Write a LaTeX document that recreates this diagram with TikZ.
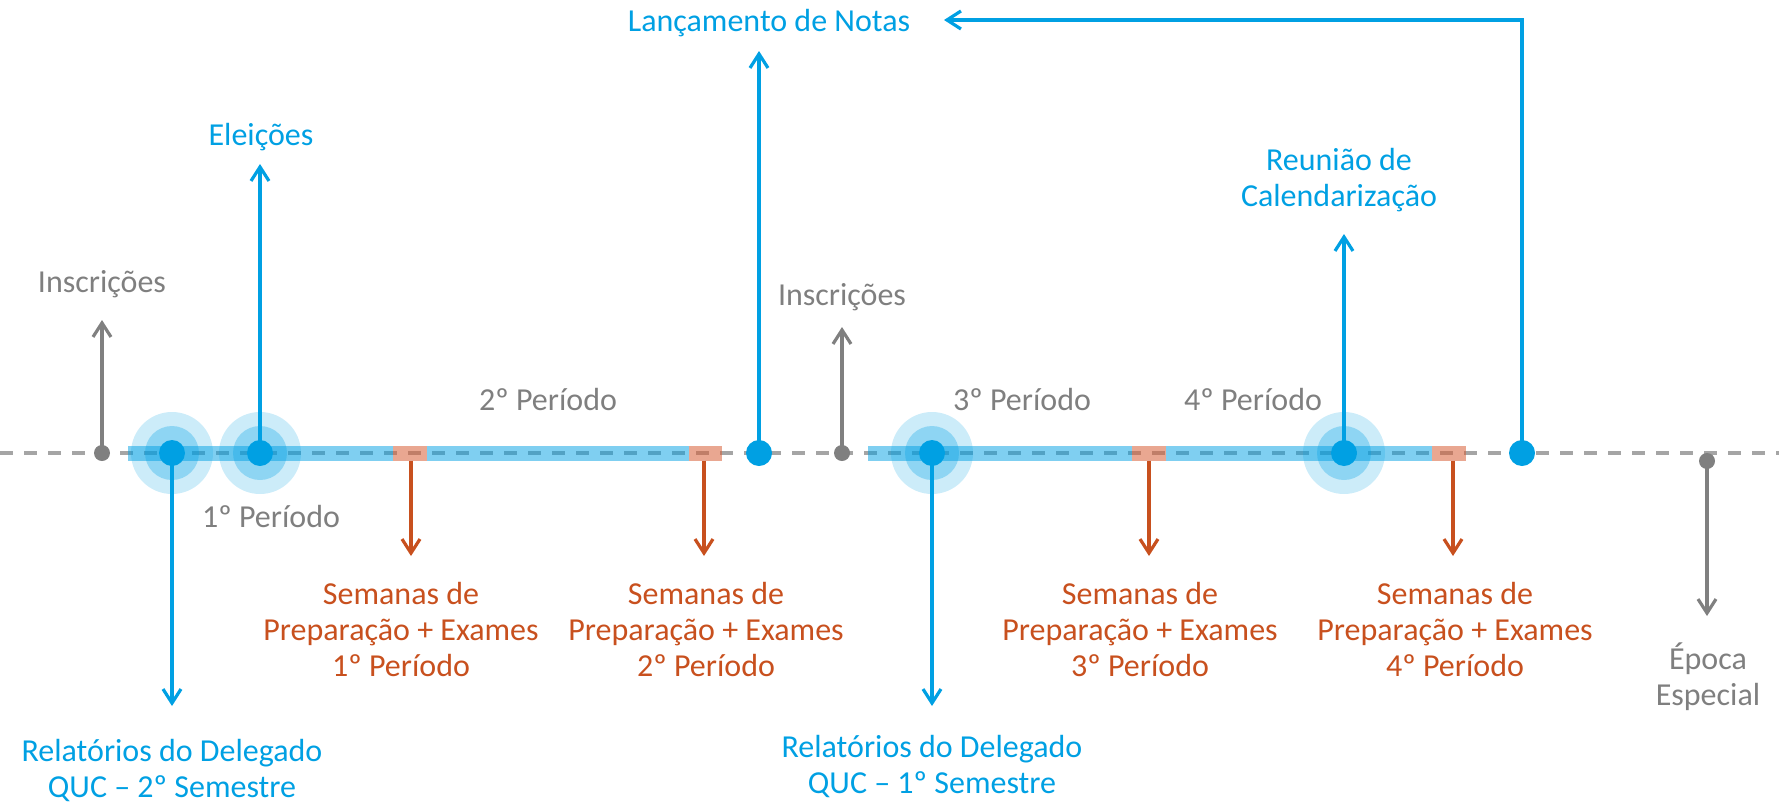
\documentclass[tikz,border=0pt]{standalone}
\usepackage{fontspec}
\setmainfont{Carlito}
\usetikzlibrary{arrows.meta}
\definecolor{cblue}{RGB}{0,160,227}
\definecolor{cgray}{RGB}{127,127,127}
\definecolor{cgline}{RGB}{128,128,128}
\definecolor{cline}{RGB}{165,165,165}
\definecolor{cred}{RGB}{200,80,30}
\definecolor{crect}{RGB}{215,95,55}
\begin{document}
\begin{tikzpicture}[x=0.5pt,y=-0.5pt,
 lbl/.style={font=\fontsize{16}{18}\selectfont, align=center, inner sep=0pt},
 bluelbl/.style={lbl,text=cblue},
 graylbl/.style={lbl,text=cgray},
 redlbl/.style={lbl,text=cred},
 tipline/.style={line width=1.6pt,-{Straight Barb[length=7pt,width=9pt]}},
 bluedot/.style={circle,fill=cblue,inner sep=0pt,minimum size=13pt},
 graydot/.style={circle,fill=cgline,inner sep=0pt,minimum size=8pt},
 halo/.style={fill=cblue,opacity=0.2},
 halomid/.style={fill=cblue,opacity=0.3},
 bar/.style={fill=cblue,opacity=0.5},
 redbar/.style={fill=crect,opacity=0.55}
]
\useasboundingbox (0,0) rectangle (1779,809);
% timeline
\draw[cline, line width=2pt, dash pattern=on 6.5pt off 5.5pt] (0,453) -- (1779,453);
% halos
\foreach \x in {172,260,932,1344}{
  \fill[halo] (\x,453) circle[radius=41];
  \fill[halomid] (\x,453) circle[radius=27];
}
% bars
\fill[bar] (128,445.5) rectangle (393,460.5);
\fill[redbar] (393,445.5) rectangle (427,460.5);
\fill[bar] (427,445.5) rectangle (689,460.5);
\fill[redbar] (689,445.5) rectangle (722,460.5);
\fill[bar] (868,445.5) rectangle (1132,460.5);
\fill[redbar] (1132,445.5) rectangle (1166,460.5);
\fill[bar] (1166,445.5) rectangle (1432,460.5);
\fill[redbar] (1432,445.5) rectangle (1466,460.5);
% dots
\node[graydot] (g1) at (102,453) {};
\node[bluedot] (b1) at (172,453) {};
\node[bluedot] (b2) at (260,453) {};
\node[bluedot] (b3) at (759,453) {};
\node[graydot] (g2) at (842,453) {};
\node[bluedot] (b4) at (932,453) {};
\node[bluedot] (b5) at (1344,453) {};
\node[bluedot] (b6) at (1522,453) {};
\node[graydot] (g3) at (1707,461) {};
% red marker anchors
\coordinate (r1) at (411,460.5);
\coordinate (r2) at (704,460.5);
\coordinate (r3) at (1149,460.5);
\coordinate (r4) at (1453,460.5);
% tips
\coordinate (tg1) at (102,320);
\coordinate (tb1) at (172,706);
\coordinate (tb2) at (260,164);
\coordinate (tb3) at (759,51);
\coordinate (tg2) at (842,327);
\coordinate (tb4) at (932,706);
\coordinate (tb5) at (1344,234);
\coordinate (tb6) at (944,20);
\coordinate (tg3) at (1707,616);
\coordinate (tr1) at (411,556);
\coordinate (tr2) at (704,556);
\coordinate (tr3) at (1149,556);
\coordinate (tr4) at (1453,556);
% labels
\node[graylbl] (lg1) at (102,284) {Inscrições};
\node[bluelbl] (lb2) at (261,137) {Eleições};
\node[bluelbl] (lb1) at (172,770) {Relatórios do Delegado\\QUC – 2º Semestre};
\node[graylbl] (p1) at (271,516) {1º Período};
\node[graylbl] (p2) at (548,399) {2º Período};
\node[redlbl] (lr1) at (401,629) {Semanas de\\Preparação + Exames\\1º Período};
\node[redlbl] (lr2) at (706,629) {Semanas de\\Preparação + Exames\\2º Período};
\node[redlbl] (lr3) at (1140,629) {Semanas de\\Preparação + Exames\\3º Período};
\node[redlbl] (lr4) at (1455,629) {Semanas de\\Preparação + Exames\\4º Período};
\node[bluelbl] (lb3) at (769,23) {Lançamento de Notas};
\node[graylbl] (lg2) at (842,297) {Inscrições};
\node[bluelbl] (lb4) at (932,766) {Relatórios do Delegado\\QUC – 1º Semestre};
\node[graylbl] (p3) at (1022,399) {3º Período};
\node[graylbl] (p4) at (1253,399) {4º Período};
\node[bluelbl] (lb5) at (1339,180) {Reunião de\\Calendarização};
\node[graylbl] (lg3) at (1708,677) {Época\\Especial};
% connectors
\draw[tipline,cgline] (g1.center) -- (tg1);
\draw[tipline,cgline] (g2.center) -- (tg2);
\draw[tipline,cgline] (g3.center) -- (tg3);
\draw[tipline,cblue] (b1.center) -- (tb1);
\draw[tipline,cblue] (b2.center) -- (tb2);
\draw[tipline,cblue] (b3.center) -- (tb3);
\draw[tipline,cblue] (b4.center) -- (tb4);
\draw[tipline,cblue] (b5.center) -- (tb5);
\draw[tipline,cblue] (b6.center) |- (tb6);
\draw[tipline,cred] (r1) -- (tr1);
\draw[tipline,cred] (r2) -- (tr2);
\draw[tipline,cred] (r3) -- (tr3);
\draw[tipline,cred] (r4) -- (tr4);
\end{tikzpicture}
\end{document}
